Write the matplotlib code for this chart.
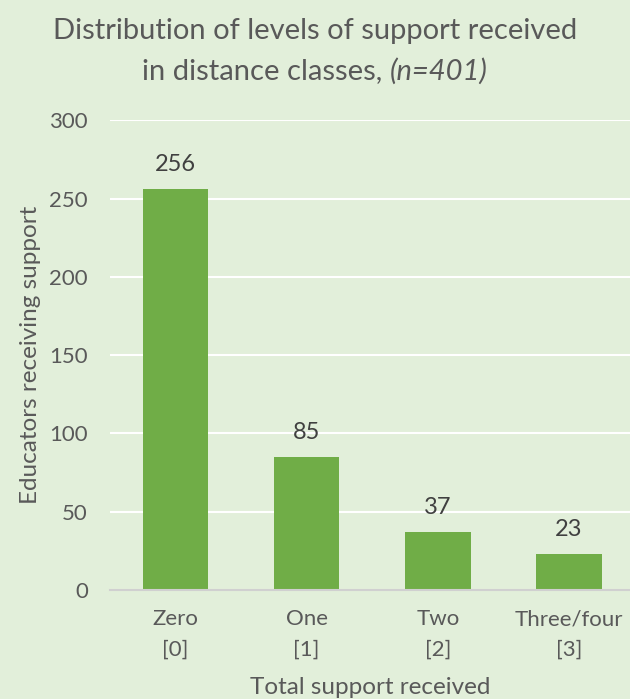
import matplotlib
matplotlib.use("Agg")
import matplotlib.pyplot as plt

# data
categories = ["Zero\n[0]", "One\n[1]", "Two\n[2]", "Three/four\n[3]"]
counts = [256, 85, 37, 23]
yticks = [0, 50, 100, 150, 200, 250, 300]

bg = "#E2EFDA"
bar_col = "#70AD47"
txt = "#595959"

plt.rcParams["font.family"] = ["Lato", "DejaVu Sans"]

fig = plt.figure(figsize=(6.3, 6.99), dpi=100, facecolor=bg)
ax = fig.add_axes([0.1746, 0.156, 0.8254, 0.672], facecolor=bg)

x = range(len(categories))
bars = ax.bar(x, counts, width=0.5, color=bar_col, zorder=3)

for xi, v in zip(x, counts):
    ax.annotate(str(v), (xi, v), xytext=(0, 10), textcoords="offset points",
                ha="center", va="bottom", fontsize=17, color="#404040")

ax.set_ylim(0, 300)
ax.set_xlim(-0.5, 3.466)
ax.set_yticks(yticks)
ax.set_xticks(list(x))
ax.set_xticklabels(categories, linespacing=1.65)
ax.tick_params(axis="y", length=0, pad=16, labelsize=16, labelcolor=txt)
ax.tick_params(axis="x", length=0, pad=14, labelsize=16, labelcolor=txt)
ax.grid(axis="y", color="white", linewidth=1.5, zorder=0)

for s in ["top", "right", "left"]:
    ax.spines[s].set_visible(False)
ax.spines["bottom"].set_color("#D0D0D0")
ax.spines["bottom"].set_linewidth(1.5)
ax.spines["bottom"].set_zorder(4)

ax.set_ylabel("Educators receiving support", fontsize=17.5, color=txt, labelpad=6)
ax.set_xlabel("Total support received", fontsize=17.5, color=txt, va="center")
ax.xaxis.set_label_coords(0.5, -0.208)

t0 = fig.text(0.5, 0.955, "Distribution of levels of support received",
              ha="center", va="center", fontsize=21, color=txt)
t1 = fig.text(0.5, 0.898, "in distance classes, ", ha="right", va="center",
              fontsize=21, color=txt)
t2 = fig.text(0.5, 0.898, "(n=401)", ha="left", va="center",
              fontsize=21, color=txt, style="italic")
fig.canvas.draw()
# centre the normal + italic parts of line two as one piece
r = fig.canvas.get_renderer()
w1 = t1.get_window_extent(r).width
w2 = t2.get_window_extent(r).width
shift = (w1 - w2) / 2 / fig.bbox.width
t1.set_x(0.5 + shift)
t2.set_x(0.5 + shift)

fig.savefig("out.png", dpi=100, facecolor=bg)
